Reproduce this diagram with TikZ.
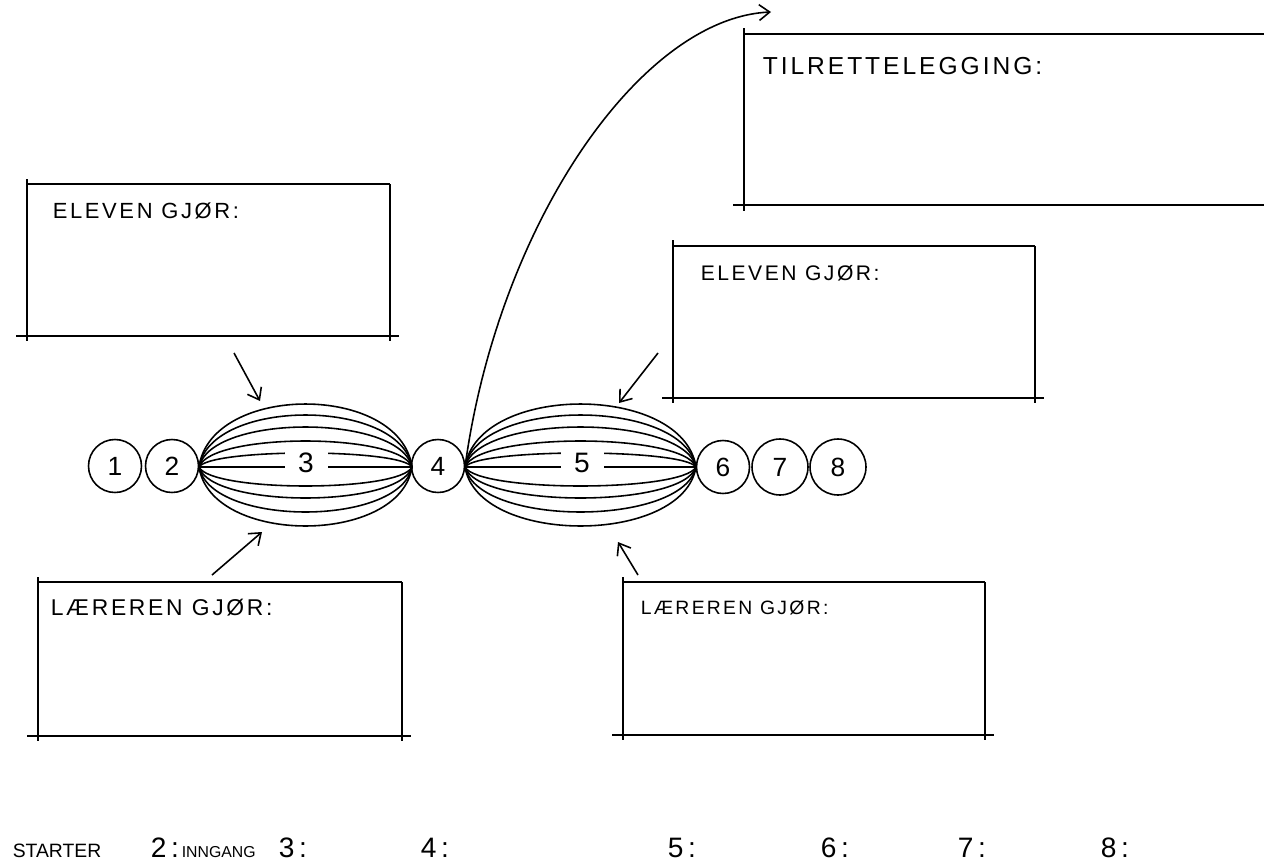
\documentclass[tikz,border=0pt]{standalone}
\usepackage{fontspec}
\setmainfont{Liberation Sans}
\usetikzlibrary{arrows.meta}
\usetikzlibrary{positioning}

\begin{document}
\begin{tikzpicture}[x=0.02cm, y=-0.02cm, line width=0.9pt,
    >={Straight Barb[length=6pt,width=9pt]},
    num/.style={draw, circle, inner sep=0, minimum size=1.06cm,
        font=\fontsize{15}{15}\selectfont},
    lenslbl/.style={fill=white, inner sep=0, minimum width=0.86cm,
        minimum height=0.52cm, font=\fontsize{16}{16}\selectfont},
    lbl/.style={anchor=base west, inner sep=0,
        font=\fontsize{#1}{#1}\selectfont\addfontfeature{LetterSpace=12}},
    box/.style={line width=1.3pt}]
    \useasboundingbox (0,0) rectangle (1264,862);

    % Small steps
    \node[num] (n1) at (115,466) {1};
    \node[num] (n2) at (172,466) {2};
    \node[num] (n4) at (438,466) {4};
    \node[num] (n6) at (723,467) {6};
    \node[num, minimum size=1.12cm] (n7) at (780,467) {7};
    \node[num, minimum size=1.12cm] (n8) at (838,467) {8};

    % Lens ends
    \coordinate (l3w) at (199,467);
    \coordinate (l3e) at (412,467);
    \coordinate (l5w) at (465,467);
    \coordinate (l5e) at (696,467);

    % Bundles of strands
    \foreach \h in {-63,-52,-40,-26,-14,0,19,31,45,59} {
        \draw (l3w) .. controls +(12,\h*1.333) and +(-12,\h*1.333) .. (l3e);
        \draw (l5w) .. controls +(13,\h*1.333) and +(-13,\h*1.333) .. (l5e);
    }
    \node[lenslbl] (t3) at (306,463) {3};
    \node[lenslbl] (t5) at (582,463) {5};

    % Boxes (lines run a bit past the corners)
    \draw[box] (27,179) -- (27,341) (16,336) -- (399,336)
        (390,184) -- (390,341) (27,184) -- (390,184);
    \node[lbl=12.5] (elev1) at (52,218) {ELEVEN GJØR:};

    \draw[box] (38,577) -- (38,741) (27,736) -- (411,736)
        (402,582) -- (402,741) (38,582) -- (402,582);
    \node[lbl=13] (laer1) at (50,615) {LÆREREN GJØR:};

    \draw[box] (744,28) -- (744,211) (733,205) -- (1264,205)
        (744,34) -- (1264,34);
    \node[lbl=14] (tilr) at (762,74) {TILRETTELEGGING:};

    \draw[box] (673,240) -- (673,403) (662,398) -- (1044,398)
        (1035,246) -- (1035,403) (673,246) -- (1035,246);
    \node[lbl=12] (elev2) at (700,280) {ELEVEN GJØR:};

    \draw[box] (623,577) -- (623,740) (612,735) -- (994,735)
        (985,582) -- (985,740) (623,582) -- (985,582);
    \node[lbl=11] (laer2) at (640,614) {LÆREREN GJØR:};

    % Arrows into the bundles
    \coordinate (a1s) at (234,353);
    \coordinate (a1e) at (260,401);
    \draw[->] (a1s) -- (a1e);
    \coordinate (a2s) at (212,575);
    \coordinate (a2e) at (262,532);
    \draw[->] (a2s) -- (a2e);
    \coordinate (a3s) at (658,353);
    \coordinate (a3e) at (619,403);
    \draw[->] (a3s) -- (a3e);
    \coordinate (a4s) at (638,575);
    \coordinate (a4e) at (618,542);
    \draw[->] (a4s) -- (a4e);

    % Long arrow up to the top box
    \coordinate (top) at (771,12);
    \draw[->] (l5w) .. controls (498,225) and (640,18) .. (top);

    % Legend along the bottom
    \node[anchor=base west, inner sep=0, font=\fontsize{11}{11}\selectfont] (s1) at (12,857) {STARTER};
    \node[anchor=base west, inner sep=0, font=\fontsize{16}{16}\selectfont] (s2) at (150,857) {2\,:};
    \node[anchor=base west, inner sep=0, font=\fontsize{9}{9}\selectfont] (s2t) at (181,857) {INNGANG};
    \foreach \n/\x in {3/278, 4/420, 5/667, 6/820, 7/957, 8/1100}
        \node[anchor=base west, inner sep=0, font=\fontsize{16}{16}\selectfont] (s\n) at (\x,857) {\n\,:};
\end{tikzpicture}
\end{document}
